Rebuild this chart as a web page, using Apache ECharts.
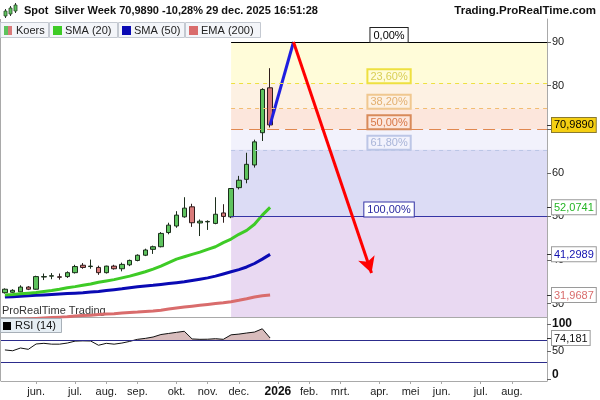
<!DOCTYPE html>
<html><head><meta charset="utf-8">
<script src="https://cdn.jsdelivr.net/npm/echarts@6/dist/echarts.min.js"></script>
<style>html,body{margin:0;padding:0;background:#fff}#c{width:600px;height:400px}</style>
</head><body><div id="c"></div>
<script>
// ---------- data ----------
const weekCount = 70; // weekly slots from 5 May 2025 to end Aug 2026
const opens  = [32.5,32.6,32.7,33.8,33.3,36.1,36.3,36.15,36.2,37.1,38.8,38.5,38.3,37.1,38.6,38.0,38.9,39.9,41.1,42.45,43.05,46.3,47.8,49.9,52.2,48.5,48.75,48.4,50.8,49.9,56.6,58.5,61.8,69.2,79.5];
const closes = [33.3,33.05,33.8,33.3,36.2,36.2,36.4,36.05,37.1,38.5,38.3,38.6,37.1,38.6,38.0,39.0,39.9,41.1,42.3,43.05,46.1,48.0,50.3,51.9,48.55,48.9,48.85,50.5,50.0,56.4,58.3,61.95,67.1,79.12,70.989];
const lows   = [32.3,32.5,32.6,33.1,33.2,35.4,35.6,35.5,35.9,36.9,38.0,38.0,36.6,36.9,37.8,37.4,38.6,39.7,40.9,41.4,42.9,45.9,47.4,49.7,47.6,45.5,46.9,48.2,48.55,49.6,56.2,57.6,61.2,67.3,70.4];
const highs  = [33.5,33.3,34.2,34.0,36.4,36.9,37.0,36.9,37.4,38.9,39.3,40.1,38.7,38.7,38.9,39.4,40.1,41.3,42.6,43.3,46.4,48.55,51.2,54.4,52.9,49.3,49.1,54.4,52.8,56.5,59.3,64.6,67.6,79.4,84.0];
const sma20  = [32.0,32.1,32.25,32.4,32.55,32.8,33.0,33.3,33.65,33.9,34.2,34.5,34.9,35.2,35.5,35.9,36.3,36.8,37.3,37.9,38.6,39.4,40.2,40.75,41.3,41.8,42.45,43.05,44.0,44.8,45.9,46.8,48.2,50.3,52.0741];
const sma50  = [31.5,31.6,31.7,31.8,31.9,32.0,32.1,32.2,32.3,32.4,32.5,32.65,32.8,33.0,33.2,33.4,33.65,33.85,34.05,34.2,34.4,34.6,34.8,35.0,35.3,35.6,35.9,36.3,36.8,37.3,37.8,38.4,39.2,40.2,41.2989];
const ema200 = [26.2,26.3,26.4,26.5,26.6,26.7,26.8,26.9,27.0,27.15,27.25,27.35,27.5,27.6,27.7,27.85,27.95,28.05,28.2,28.3,28.5,28.75,29.0,29.2,29.4,29.6,29.8,30.0,30.2,30.45,30.75,31.1,31.5,31.8,31.9687];
const rsi14  = [52.5,51,56,53.6,63.3,64.5,63,63,65,68.5,69,68.7,61,64.5,63,65,68,71.8,73.5,76,80.5,82.5,84.5,86.4,72.5,71.8,72,72.9,71.8,80,81.3,83.3,85,91,74.181];
const monthTickIdx = [4,9,13,17,22,26,30,35,39,43,48,52,56,61,65];
const monthLabels  = ['jun.','jul.','aug.','sep.','okt.','nov.','dec.','2026','feb.','mrt.','apr.','mei','jun.','jul.','aug.'];
const priceTicks = [30,40,50,60,70,80,90];
const rsiTicks = [0,50,100];
const rsiLevels = [70,30];
const fibHigh = 90, fibLow = 50, fibStartIdx = 29;
const fibRatios = [0,0.236,0.382,0.5,0.618,1];
const fibLabels = ['0,00%','23,60%','38,20%','50,00%','61,80%','100,00%'];
const arrowUp   = [[34,70.989],[37,90]];
const arrowDown = [[37,90],[47,37]];

// ---------- styles ----------
const FONT = '"Liberation Sans", Arial, sans-serif';
const yMin = 26.93, yMax = 95.28;
const xMin = -0.5, xMax = weekCount - 0.5;
const fibLevels = fibRatios.map(r => fibHigh - r * (fibHigh - fibLow));
const fibLine = [
  {color:'#000000', type:'solid'},
  {color:'#eee040', type:[4,4]},
  {color:'#f2bd72', type:[4,4]},
  {color:'#e08850', type:[12,6]},
  {color:'#bcc6e6', type:[4,4]},
  {color:'#3535a5', type:'solid'}
];
const fibText = [
  {color:'#000', border:'#222', bg:'#ffffff'},
  {color:'#d9cf55', border:'#eee040', bg:'transparent'},
  {color:'#e3b070', border:'#f0c890', bg:'transparent'},
  {color:'#d87848', border:'#d88a5a', bg:'transparent'},
  {color:'#a8b4d8', border:'#bcc6e6', bg:'transparent'},
  {color:'#2a2aa0', border:'#3535a5', bg:'#ffffff'}
];
const bandColors = ['#fffcd9','#fdf1e3','#fce6dc','#f2f2fc','#dcdcf5','#e9d9f2'];
const bandEdges = fibLevels.concat([yMin]);

const markAreaData = bandColors.map((c,i) => [
  {coord:[fibStartIdx, bandEdges[i]], itemStyle:{color:c}},
  {coord:[xMax, bandEdges[i+1]]}
]);
const markLineData = fibLevels.map((lv,i) => [
  {coord:[fibStartIdx, lv], lineStyle:{color:fibLine[i].color, type:fibLine[i].type, width:1},
   label:{show:true, position:'insideMiddleTop', distance:0, formatter:fibLabels[i],
     color:fibText[i].color, fontSize:11, fontFamily:FONT,
     backgroundColor:fibText[i].bg, borderColor:fibText[i].border, borderWidth:1, padding:[2,3,1,3]}},
  {coord:[xMax, lv]}
]);

const candleData = opens.map((o,i) => [i, o, closes[i], lows[i], highs[i]]);
const toXY = arr => arr.map((v,i) => [i, v]);

const lastBoxes = [
  {v: closes[closes.length-1], dec:4, color:'#000', bg:'#f5cf12', border:'#8a7a30'},
  {v: sma20[sma20.length-1], dec:4, color:'#25b525', bg:'#ffffff', border:'#9a9a9a'},
  {v: sma50[sma50.length-1], dec:4, color:'#1010b0', bg:'#ffffff', border:'#9a9a9a'},
  {v: ema200[ema200.length-1], dec:4, color:'#d96c6c', bg:'#ffffff', border:'#9a9a9a'}
];
const rsiBox = {v: rsi14[rsi14.length-1], dec:3};
const fmt = (v,d) => v.toFixed(d).replace('.', ',');
const rich = {};
lastBoxes.forEach((b,i) => {
  rich['b'+i] = {color:b.color, backgroundColor:b.bg, borderColor:b.border, borderWidth:1, padding:[2,2,1,2], fontSize:11, fontFamily:FONT};
});

const legendItems = [
  {x:0, w:48, text:'Koers', sw:['#5ec35e','#d97a7a']},
  {x:49, w:68, text:'SMA (20)', sw:['#3ecb26']},
  {x:118, w:66, text:'SMA (50)', sw:['#0a0ab4']},
  {x:185, w:75, text:'EMA (200)', sw:['#d96c6c']}
];
const axisGray = '#a9a9a9';
const graphic = [];
// header icon
[[4,11,5],[9,8,6],[14,5,6]].forEach(([x,y,h]) => {
  graphic.push({type:'line', shape:{x1:x+1.5,y1:y-2,x2:x+1.5,y2:y+h+2}, style:{stroke:'#333',lineWidth:1}});
  graphic.push({type:'rect', shape:{x:x,y:y,width:3,height:h}, style:{fill:'#5ec35e',stroke:'#2a4a2a',lineWidth:0.8}});
});
graphic.push({type:'text', x:24, y:11, style:{text:'Spot  Silver Week 70,9890 -10,28% 29 dec. 2025 16:51:28', font:'bold 11px '+FONT, fill:'#111', verticalAlign:'middle'}});
graphic.push({type:'text', x:596, y:11, style:{text:'Trading.ProRealTime.com', font:'bold 11.5px '+FONT, fill:'#111', align:'right', verticalAlign:'middle'}});
// pane left border
graphic.push({type:'line', shape:{x1:0.5,y1:19,x2:0.5,y2:381}, style:{stroke:axisGray,lineWidth:1}, z:50});
legendItems.forEach(it => {
  graphic.push({type:'rect', shape:{x:it.x+0.5,y:22.5,width:it.w,height:15}, style:{fill:'#f3f5f9',stroke:'#c4c9d1',lineWidth:1}, z:100});
  if (it.sw.length === 2) {
    graphic.push({type:'rect', shape:{x:it.x+4,y:26,width:4,height:9}, style:{fill:it.sw[0]}, z:101});
    graphic.push({type:'rect', shape:{x:it.x+8,y:26,width:4,height:9}, style:{fill:it.sw[1]}, z:101});
  } else {
    graphic.push({type:'rect', shape:{x:it.x+4,y:26,width:9,height:9}, style:{fill:it.sw[0]}, z:101});
  }
  graphic.push({type:'text', x:it.x+16, y:30.5, style:{text:it.text, font:'11px '+FONT, fill:'#222', verticalAlign:'middle'}, z:101});
});
graphic.push({type:'text', x:2, y:311, style:{text:'ProRealTime Trading', font:'11px '+FONT, fill:'#333', verticalAlign:'middle'}, z:1});
graphic.push({type:'rect', shape:{x:0.5,y:318.5,width:61,height:14}, style:{fill:'#e6eef4',stroke:'#a8b0b8',lineWidth:1}, z:100});
graphic.push({type:'rect', shape:{x:3,y:322,width:8,height:8}, style:{fill:'#000'}, z:101});
graphic.push({type:'text', x:15, y:326, style:{text:'RSI (14)', font:'11px '+FONT, fill:'#111', verticalAlign:'middle'}, z:101});

const option = {
  animation: false,
  graphic: graphic,
  grid: [
    {left:1, right:53, top:19, height:298},
    {left:1, right:53, top:317, height:64}
  ],
  xAxis: [
    {type:'value', gridIndex:0, min:xMin, max:xMax, axisLine:{show:true, onZero:false, lineStyle:{color:axisGray}}, axisTick:{show:false}, axisLabel:{show:false}, splitLine:{show:false}},
    {type:'value', gridIndex:1, min:xMin, max:xMax, axisLine:{show:true, onZero:false, lineStyle:{color:axisGray}},
     axisTick:{show:true, customValues:monthTickIdx, length:3, lineStyle:{color:axisGray}},
     axisLabel:{show:true, customValues:monthTickIdx, margin:5, fontSize:11, fontFamily:FONT, color:'#222',
       formatter: v => { const s = monthLabels[monthTickIdx.indexOf(Math.round(v))] || ''; return /^\d+$/.test(s) ? '{y|'+s+'}' : s; },
       rich:{y:{fontWeight:'bold', fontSize:12, fontFamily:FONT, color:'#111'}}},
     splitLine:{show:false}}
  ],
  yAxis: [
    {type:'value', gridIndex:0, position:'right', min:yMin, max:yMax, axisLine:{show:true, onZero:false, lineStyle:{color:axisGray}},
     axisTick:{show:true, customValues:priceTicks, length:4, lineStyle:{color:'#666'}},
     axisLabel:{customValues:priceTicks, margin:5, fontSize:11, fontFamily:FONT, color:'#222'}, splitLine:{show:false}},
    {type:'value', gridIndex:0, position:'right', min:yMin, max:yMax, z:10, axisLine:{show:false, onZero:false},
     axisTick:{show:true, customValues:lastBoxes.map(b=>b.v), length:4, lineStyle:{color:'#333'}},
     axisLabel:{customValues:lastBoxes.map(b=>b.v), margin:5, rich:rich,
       formatter: v => { let k=0, d=1e9; lastBoxes.forEach((b,i)=>{ if(Math.abs(b.v-v)<d){d=Math.abs(b.v-v);k=i;} }); return '{b'+k+'|'+fmt(lastBoxes[k].v,lastBoxes[k].dec)+'}'; }},
     splitLine:{show:false}},
    {type:'value', gridIndex:1, position:'right', min:-4, max:112.4, axisLine:{show:true, onZero:false, lineStyle:{color:axisGray}},
     axisTick:{show:true, customValues:rsiTicks, length:4, lineStyle:{color:'#666'}},
     axisLabel:{customValues:rsiTicks, margin:5, fontSize:11, fontFamily:FONT, color:'#222',
       formatter: v => v === 50 ? '50' : (v === 0 ? '{z|0}' : '{b|'+v+'}'),
       rich:{b:{fontWeight:'bold', fontSize:12, fontFamily:FONT, color:'#111'},
             z:{fontWeight:'bold', fontSize:12, fontFamily:FONT, color:'#111', padding:[0,0,8,0]}}},
     splitLine:{show:false}},
    {type:'value', gridIndex:1, position:'right', min:-4, max:112.4, z:10, axisLine:{show:false, onZero:false},
     axisTick:{show:true, customValues:[rsiBox.v], length:4, lineStyle:{color:'#333'}},
     axisLabel:{customValues:[rsiBox.v], margin:5, formatter: () => '{r|'+fmt(rsiBox.v, rsiBox.dec)+'}',
       rich:{r:{color:'#111', backgroundColor:'#ffffff', borderColor:'#9a9a9a', borderWidth:1, padding:[2,2,1,2], fontSize:11, fontFamily:FONT}}},
     splitLine:{show:false}}
  ],
  series: [
    {type:'candlestick', name:'Koers', xAxisIndex:0, yAxisIndex:0, data:candleData, barWidth:5,
     itemStyle:{color:'#5ec35e', color0:'#d97a7a', borderColor:'#1c2e1c', borderColor0:'#2e1c1c', borderWidth:1},
     markArea:{silent:true, data:markAreaData},
     markLine:{silent:true, symbol:['none','none'], data:markLineData}},
    {type:'line', name:'EMA (200)', xAxisIndex:0, yAxisIndex:0, data:toXY(ema200), symbol:'none', lineStyle:{color:'#d96c6c', width:3}, z:3},
    {type:'line', name:'SMA (50)', xAxisIndex:0, yAxisIndex:0, data:toXY(sma50), symbol:'none', lineStyle:{color:'#0a0ab4', width:3}, z:3},
    {type:'line', name:'SMA (20)', xAxisIndex:0, yAxisIndex:0, data:toXY(sma20), symbol:'none', lineStyle:{color:'#3ecb26', width:3}, z:3},
    {type:'line', name:'up', xAxisIndex:0, yAxisIndex:0, data:arrowUp, symbol:'none', lineStyle:{color:'#1f1fe0', width:3}, z:4,
     markLine:{silent:true, symbol:['none','arrow'], symbolSize:[13,16], label:{show:false},
       lineStyle:{color:'#ff0000', width:3, type:'solid'}, data:[[{coord:arrowDown[0]},{coord:arrowDown[1]}]]}},
    {type:'line', name:'rsiFill', xAxisIndex:1, yAxisIndex:2, data:toXY(rsi14.map(v=>Math.max(v, rsiLevels[0]))), symbol:'none',
     lineStyle:{width:0}, areaStyle:{origin:rsiLevels[0], color:'#d8bcbc', opacity:1}, z:2},
    {type:'line', name:'RSI (14)', xAxisIndex:1, yAxisIndex:2, data:toXY(rsi14), symbol:'none', lineStyle:{color:'#111', width:1}, z:3,
     markLine:{silent:true, symbol:['none','none'], label:{show:false}, lineStyle:{color:'#2c2c8c', width:1, type:'solid'},
       data:rsiLevels.map(v=>({yAxis:v}))}}
  ]
};
const chart = echarts.init(document.getElementById('c'), null, {renderer:'canvas'});
chart.setOption(option);
</script></body></html>
